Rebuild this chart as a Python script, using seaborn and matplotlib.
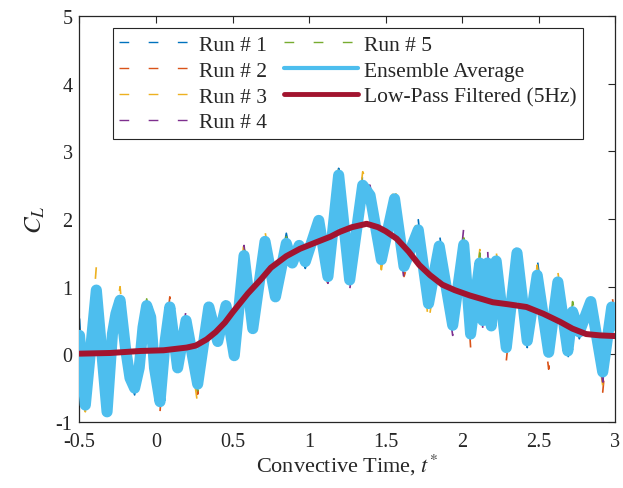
import numpy as np
import matplotlib
matplotlib.use("Agg")
import matplotlib.pyplot as plt
from matplotlib.lines import Line2D
import seaborn as sns

# ---------------- data ----------------
t_avg = [-0.500, -0.462, -0.390, -0.320, -0.285, -0.262, -0.235, -0.200, -0.170, -0.140, -0.110,
         -0.085, -0.061, -0.035, -0.010, 0.026, 0.060, 0.090, 0.141, 0.196, 0.272, 0.345,
         0.403, 0.457, 0.511, 0.575, 0.632, 0.712, 0.780, 0.851, 0.890, 0.935, 0.975,
         1.063, 1.123, 1.193, 1.265, 1.350, 1.398, 1.472, 1.558, 1.620, 1.713, 1.780,
         1.850, 1.938, 2.010, 2.055, 2.115, 2.135, 2.165, 2.190, 2.222, 2.288, 2.358,
         2.425, 2.490, 2.565, 2.625, 2.690, 2.721, 2.765, 2.840, 2.918, 2.977, 3.000]

cl_avg = [0.28, -0.75, 0.95, -0.85, 0.30, 0.60, 0.80, 0.10, -0.35, -0.50, -0.20,
          0.40, 0.72, 0.55, -0.20, -0.70, 0.20, 0.70, -0.20, 0.50, -0.44, 0.70,
          0.19, 0.72, -0.02, 1.46, 0.38, 1.67, 0.85, 1.64, 1.35, 1.61, 1.37,
          1.98, 1.15, 2.65, 1.10, 2.50, 2.35, 1.40, 2.30, 1.30, 1.84, 0.75,
          1.60, 0.43, 1.62, 0.30, 1.35, 0.50, 1.35, 0.42, 1.38, 0.10, 1.50,
          0.20, 1.17, 0.03, 1.07, 0.05, 0.63, 0.33, 0.78, -0.26, 0.70, 0.43]

# deviation of each individual run from the ensemble average (visible spikes)
run1_dev = [0.25, -0.15, 0.00, -0.05, 0.00, 0.00, 0.05, 0.00, 0.00, -0.10, 0.00,
            0.00, 0.00, 0.00, 0.00, -0.05, 0.00, 0.00, -0.12, 0.00, 0.00, 0.00,
            0.00, 0.10, 0.00, 0.00, 0.00, 0.05, 0.00, 0.15, 0.00, 0.00, -0.10,
            0.00, -0.20, 0.10, 0.00, 0.15, 0.00, 0.00, 0.00, 0.00, 0.15, -0.10,
            0.20, 0.00, 0.00, -0.10, 0.00, 0.00, 0.00, 0.00, 0.00, -0.15, 0.00,
            -0.10, 0.25, 0.00, 0.00, -0.15, 0.00, -0.10, 0.00, -0.20, 0.05, 0.15]
run2_dev = [0.10, 0.00, 0.10, 0.00, 0.00, 0.00, 0.00, 0.00, 0.00, 0.00, 0.05,
            0.00, 0.10, 0.00, 0.00, -0.15, 0.00, 0.15, 0.00, 0.10, -0.15, 0.00,
            0.00, 0.00, 0.00, 0.00, -0.10, 0.00, -0.10, 0.00, 0.00, 0.00, 0.00,
            0.00, -0.15, 0.00, -0.05, 0.00, 0.00, -0.10, 0.00, -0.15, 0.00, 0.00,
            0.00, 0.00, 0.10, -0.20, 0.10, 0.00, 0.00, 0.00, 0.00, -0.20, 0.00,
            0.00, 0.00, -0.25, 0.00, 0.00, 0.00, 0.00, 0.00, -0.30, 0.20, 0.10]
run3_dev = [0.00, -0.10, 0.35, 0.00, 0.00, 0.00, 0.20, 0.00, 0.00, 0.00, 0.00,
            0.00, 0.00, 0.00, 0.15, 0.00, 0.00, 0.00, 0.00, 0.00, -0.30, 0.00,
            0.00, 0.10, 0.00, 0.25, 0.00, 0.15, 0.00, 0.00, 0.00, 0.00, 0.00,
            0.10, 0.00, 0.15, -0.10, 0.20, 0.10, -0.15, 0.25, 0.00, 0.20, -0.30,
            0.00, -0.20, 0.00, 0.00, 0.20, 0.00, 0.00, 0.00, 0.15, 0.00, 0.00,
            0.00, 0.15, 0.00, 0.15, 0.00, 0.00, 0.00, 0.00, -0.20, 0.00, 0.00]
run4_dev = [0.00, 0.00, 0.20, -0.10, 0.00, 0.00, 0.00, 0.00, 0.00, 0.00, 0.00,
            0.00, 0.00, 0.00, 0.00, 0.00, 0.00, 0.10, 0.00, 0.15, 0.00, 0.00,
            0.00, 0.00, -0.15, 0.15, 0.00, 0.00, 0.00, 0.00, 0.00, 0.10, 0.00,
            0.00, -0.10, 0.10, -0.15, 0.00, 0.15, 0.00, 0.00, -0.20, 0.00, 0.00,
            0.00, -0.15, 0.25, 0.00, 0.00, -0.15, 0.25, 0.00, 0.00, 0.00, 0.15,
            0.00, 0.00, 0.00, 0.00, 0.00, 0.10, 0.00, 0.10, -0.15, 0.00, 0.00]
run5_dev = [0.00, 0.00, 0.00, 0.00, 0.00, 0.10, 0.00, 0.00, 0.00, 0.00, 0.00,
            0.00, 0.10, 0.00, 0.00, 0.00, 0.00, 0.00, 0.00, 0.00, -0.10, 0.15,
            0.00, 0.00, 0.00, 0.20, 0.00, 0.00, 0.00, 0.10, 0.00, 0.15, 0.00,
            0.00, 0.00, 0.00, 0.00, 0.00, 0.00, -0.10, 0.15, 0.00, 0.00, -0.10,
            0.00, 0.00, 0.10, 0.00, 0.15, 0.00, 0.00, 0.00, 0.20, -0.10, 0.00,
            0.00, 0.00, -0.10, 0.00, 0.00, 0.15, 0.00, 0.00, 0.00, 0.00, 0.00]

t_lp = [-0.50, -0.30, -0.10, 0.05, 0.20, 0.26, 0.33, 0.39, 0.45, 0.50, 0.60, 0.69,
        0.75, 0.85, 0.94, 1.05, 1.14, 1.20, 1.28, 1.376, 1.45, 1.50, 1.572, 1.65,
        1.72, 1.79, 1.87, 1.95, 2.05, 2.20, 2.30, 2.42, 2.53, 2.64, 2.72, 2.81, 2.90, 3.00]
cl_lp = [0.01, 0.02, 0.05, 0.06, 0.10, 0.13, 0.22, 0.33, 0.47, 0.62, 0.90, 1.12,
         1.28, 1.45, 1.56, 1.66, 1.74, 1.81, 1.88, 1.93, 1.88, 1.82, 1.71, 1.52,
         1.32, 1.17, 1.03, 0.95, 0.87, 0.77, 0.74, 0.70, 0.60, 0.48, 0.38, 0.30, 0.28, 0.27]

run_labels = ["Run # 1", "Run # 2", "Run # 3", "Run # 4", "Run # 5"]
avg_label = "Ensemble Average"
lp_label = "Low-Pass Filtered (5Hz)"

x_ticks = [-0.5, 0, 0.5, 1, 1.5, 2, 2.5, 3]
x_ticklabels = ["-0.5", "0", "0.5", "1", "1.5", "2", "2.5", "3"]
y_ticks = [-1, 0, 1, 2, 3, 4, 5]
y_ticklabels = ["-1", "0", "1", "2", "3", "4", "5"]

# ---------------- style ----------------
sns.set_theme(style="white")
plt.rcParams["font.family"] = ["Liberation Serif", "DejaVu Serif"]
plt.rcParams["mathtext.fontset"] = "stix"
plt.rcParams["axes.unicode_minus"] = False

run_colors = ["#0072BD", "#D95319", "#EDB120", "#7E2F8E", "#77AC30"]
avg_color = "#4DBEEE"
lp_color = "#A2142F"
ink = "#262626"
run_dash = (0, (7, 14))

fig = plt.figure(figsize=(6.23, 4.89), dpi=100)
ax = fig.add_axes([0.1276, 0.135, 0.860, 0.830])

base = np.array(cl_avg)
for dev, col in zip([run1_dev, run2_dev, run3_dev, run4_dev, run5_dev], run_colors):
    sns.lineplot(x=t_avg, y=base + np.array(dev), ax=ax, color=col, lw=1.2,
                 linestyle=run_dash, sort=False, estimator=None, zorder=2)

sns.lineplot(x=t_avg, y=cl_avg, ax=ax, color=avg_color, lw=8.0, sort=False,
             estimator=None, zorder=3, solid_joinstyle="round")
sns.lineplot(x=t_lp, y=cl_lp, ax=ax, color=lp_color, lw=4.3, sort=False,
             estimator=None, zorder=4)

ax.set_xlim(-0.5, 3)
ax.set_ylim(-1, 5)
ax.set_xticks(x_ticks)
ax.set_xticklabels(x_ticklabels)
ax.set_yticks(y_ticks)
ax.set_yticklabels(y_ticklabels)
ax.tick_params(direction="in", top=True, right=True, length=5, width=0.8,
               labelsize=14.5, colors=ink)
ax.tick_params(axis="x", pad=7)
ax.tick_params(axis="y", pad=5)
for s in ax.spines.values():
    s.set_visible(True)
    s.set_color(ink)
    s.set_linewidth(0.9)

ax.set_xlabel("Convective Time, $t^{*}$", fontsize=16, color=ink, labelpad=1)
ax.set_ylabel("$C_L$", fontsize=18, color=ink, labelpad=6)

handles = [Line2D([], [], color=c, lw=1.0, linestyle=run_dash) for c in run_colors]
handles += [Line2D([], [], color=avg_color, lw=3.0),
            Line2D([], [], color=lp_color, lw=3.5)]
labels = run_labels + [avg_label, lp_label]
leg = ax.legend(handles, labels, ncol=2, loc="upper left",
                bbox_to_anchor=(0.0625, 0.970), borderaxespad=0,
                fontsize=15.5, handlelength=3.4, handletextpad=0.3,
                columnspacing=0.8, labelspacing=0.27, borderpad=0.3,
                fancybox=False, framealpha=1, edgecolor=ink)
leg.get_frame().set_linewidth(0.8)

fig.savefig("out.png", dpi=100)
